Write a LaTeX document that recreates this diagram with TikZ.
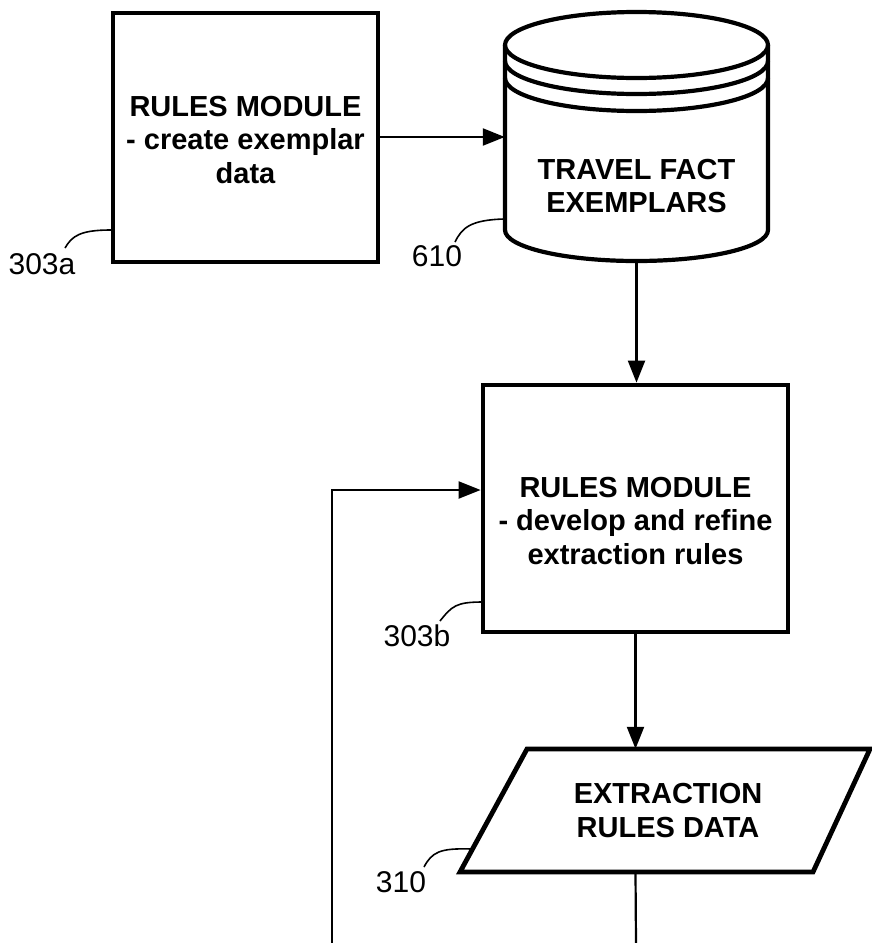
\documentclass[tikz,border=0pt]{standalone}
\usepackage{fontspec}
\setmainfont{Liberation Sans}
\usetikzlibrary{arrows.meta}
\begin{document}
\begin{tikzpicture}[x=1pt,y=-1pt,
  boxstyle/.style={draw, line width=4.8pt, rectangle, inner sep=0pt},
  shapeline/.style={line width=4.2pt, line join=round},
  boxtext/.style={font=\fontsize{29}{33.5}\selectfont\bfseries, align=center, inner sep=0pt},
  reflabel/.style={font=\fontsize{30}{34}\selectfont, inner sep=0pt},
  conn/.style={line width=2.2pt},
  flow/.style={conn, -{Triangle[length=22pt,width=17pt]}},
  leader/.style={line width=1.6pt}]
\useasboundingbox (0,0) rectangle (871,943);

% rules module creating exemplar data
\node[boxstyle, minimum width=265pt, minimum height=249pt] (boxA) at (245.5,137.5) {};
\node[boxtext] (tA) at (245.5,140) {RULES MODULE\\- create exemplar\\data};

% travel fact exemplars store (cylinder with stacked rims)
\node[inner sep=0pt, minimum width=263pt, minimum height=250pt] (db) at (636.5,137) {};
\draw[shapeline] (636.5,45) ellipse [x radius=131.5pt, y radius=33pt];
\draw[shapeline] (505,61) arc[start angle=180, end angle=360, x radius=131.5pt, y radius=33pt];
\draw[shapeline] (505,78) arc[start angle=180, end angle=360, x radius=131.5pt, y radius=33pt];
\draw[shapeline] (505,45) -- (505,230)
  arc[start angle=180, end angle=360, x radius=131.5pt, y radius=31pt] -- (768,45);
\node[boxtext] (tdb) at (636.5,186) {TRAVEL FACT\\EXEMPLARS};

% rules module refining extraction rules
\node[boxstyle, minimum width=305pt, minimum height=247pt] (boxB) at (635.5,508.5) {};
\node[boxtext] (tB) at (635.5,521) {RULES MODULE\\- develop and refine\\extraction rules};

% extraction rules data (parallelogram)
\node[inner sep=0pt, minimum width=280pt, minimum height=123pt] (prm) at (666.5,810.5) {};
\draw[line width=4.8pt, line join=miter] (527,749) -- (870,749) -- (813,872) -- (460,872) -- cycle;
\node[boxtext] (tprm) at (668,810.5) {EXTRACTION\\RULES DATA};

% connectors
\draw[flow] (boxA.east |- db.west) -- (db.west);
\draw[flow] (db.south) -- (db.south |- boxB.north);
\draw[flow] (boxB.south) -- (boxB.south |- prm.north);
\coordinate (outB) at (636,943);
\draw[conn] (boxB.south |- prm.south) -- (outB);
\coordinate (loopbot) at (332,943);
\draw[flow] (loopbot) |- ([yshift=18.5pt]boxB.west);

% reference numerals with leaders
\node[reflabel] (l303a) at (42,264) {303a};
\draw[leader] (65,248) .. controls (72,236) and (80,230) .. (111,230);
\node[reflabel] (l610) at (437,256) {610};
\draw[leader] (455,242) .. controls (462,228) and (470,220) .. (504,219);
\node[reflabel] (l303b) at (417,636) {303b};
\draw[leader] (440,621) .. controls (452,606) and (456,602) .. (483,602);
\node[reflabel] (l310) at (401,882) {310};
\draw[leader] (424,867) .. controls (432,852) and (440,848) .. (471,849);
\end{tikzpicture}
\end{document}
